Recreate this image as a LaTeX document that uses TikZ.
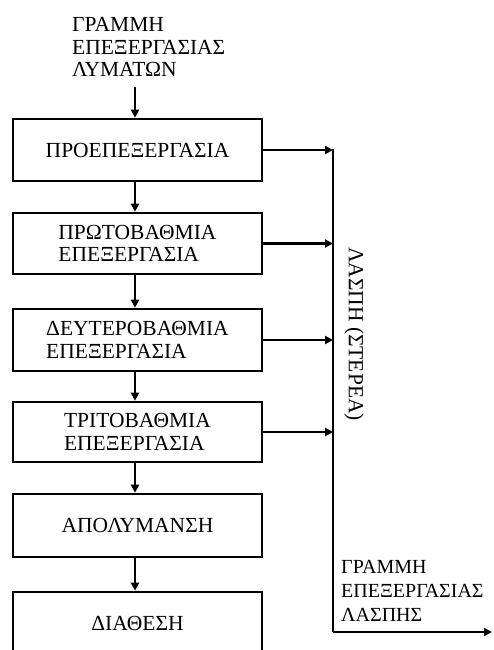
\documentclass[tikz,border=0pt]{standalone}
\usepackage{fontspec}
\setmainfont{Liberation Serif}
\usetikzlibrary{arrows.meta}
\begin{document}
\begin{tikzpicture}[x=1pt,y=-1pt,
  every node/.style={font=\fontsize{21.5}{22.5}\selectfont},
  stage/.style={draw, line width=2.6pt, minimum width=249pt, align=left, inner sep=0pt},
  flow/.style={line width=2.4pt, -{Triangle[length=8pt,width=8pt]}},
  label/.style={align=left, inner sep=0pt}]
  \useasboundingbox (0,0) rectangle (493,650);

  % treatment stages
  \node[stage, minimum height=62pt] (p1) at (137.5,150) {ΠΡΟΕΠΕΞΕΡΓΑΣΙΑ};
  \node[stage, minimum height=61pt] (p2) at (137.5,243.5) {ΠΡΩΤΟΒΑΘΜΙΑ\\ΕΠΕΞΕΡΓΑΣΙΑ};
  \node[stage, minimum height=62pt] (p3) at (137.5,340) {ΔΕΥΤΕΡΟΒΑΘΜΙΑ\\ΕΠΕΞΕΡΓΑΣΙΑ};
  \node[stage, minimum height=60pt] (p4) at (137.5,432) {ΤΡΙΤΟΒΑΘΜΙΑ\\ΕΠΕΞΕΡΓΑΣΙΑ};
  \node[stage, minimum height=63pt] (p5) at (137.5,525.5) {ΑΠΟΛΥΜΑΝΣΗ};
  \node[stage, minimum height=70pt, text depth=0pt] (p6) at (137.5,627) {\raisebox{8pt}{ΔΙΑΘΕΣΗ}};

  % incoming wastewater line
  \node[label, anchor=west] (inlab) at (72,47) {ΓΡΑΜΜΗ\\ΕΠΕΞΕΡΓΑΣΙΑΣ\\ΛΥΜΑΤΩΝ};
  \coordinate (in) at (135,87);
  \draw[flow] (in) -- (in |- p1.north);

  % main line between stages
  \foreach \a/\b in {p1/p2,p2/p3,p3/p4,p4/p5,p5/p6}
    \draw[flow] ([xshift=-2.5pt]\a.south) -- ([xshift=-2.5pt]\b.north);

  % sludge collector
  \coordinate (bustop) at (333,149);
  \coordinate (buscorner) at (333,632);
  \coordinate (out) at (492,632);
  \draw[line width=2.6pt] (bustop) -- (buscorner);
  \draw[flow] (buscorner) -- (out);
  \foreach \s in {p1,p2,p3,p4}
    \draw[flow] (\s.east) -- (\s.east -| bustop);

  \node[rotate=-90, inner sep=0pt] (sludge) at (354,334) {ΛΑΣΠΗ (ΣΤΕΡΕΑ)};
  \node[label, anchor=west, font=\fontsize{20}{24}\selectfont] (outlab) at (341,591) {ΓΡΑΜΜΗ\\ΕΠΕΞΕΡΓΑΣΙΑΣ\\ΛΑΣΠΗΣ};
\end{tikzpicture}
\end{document}
